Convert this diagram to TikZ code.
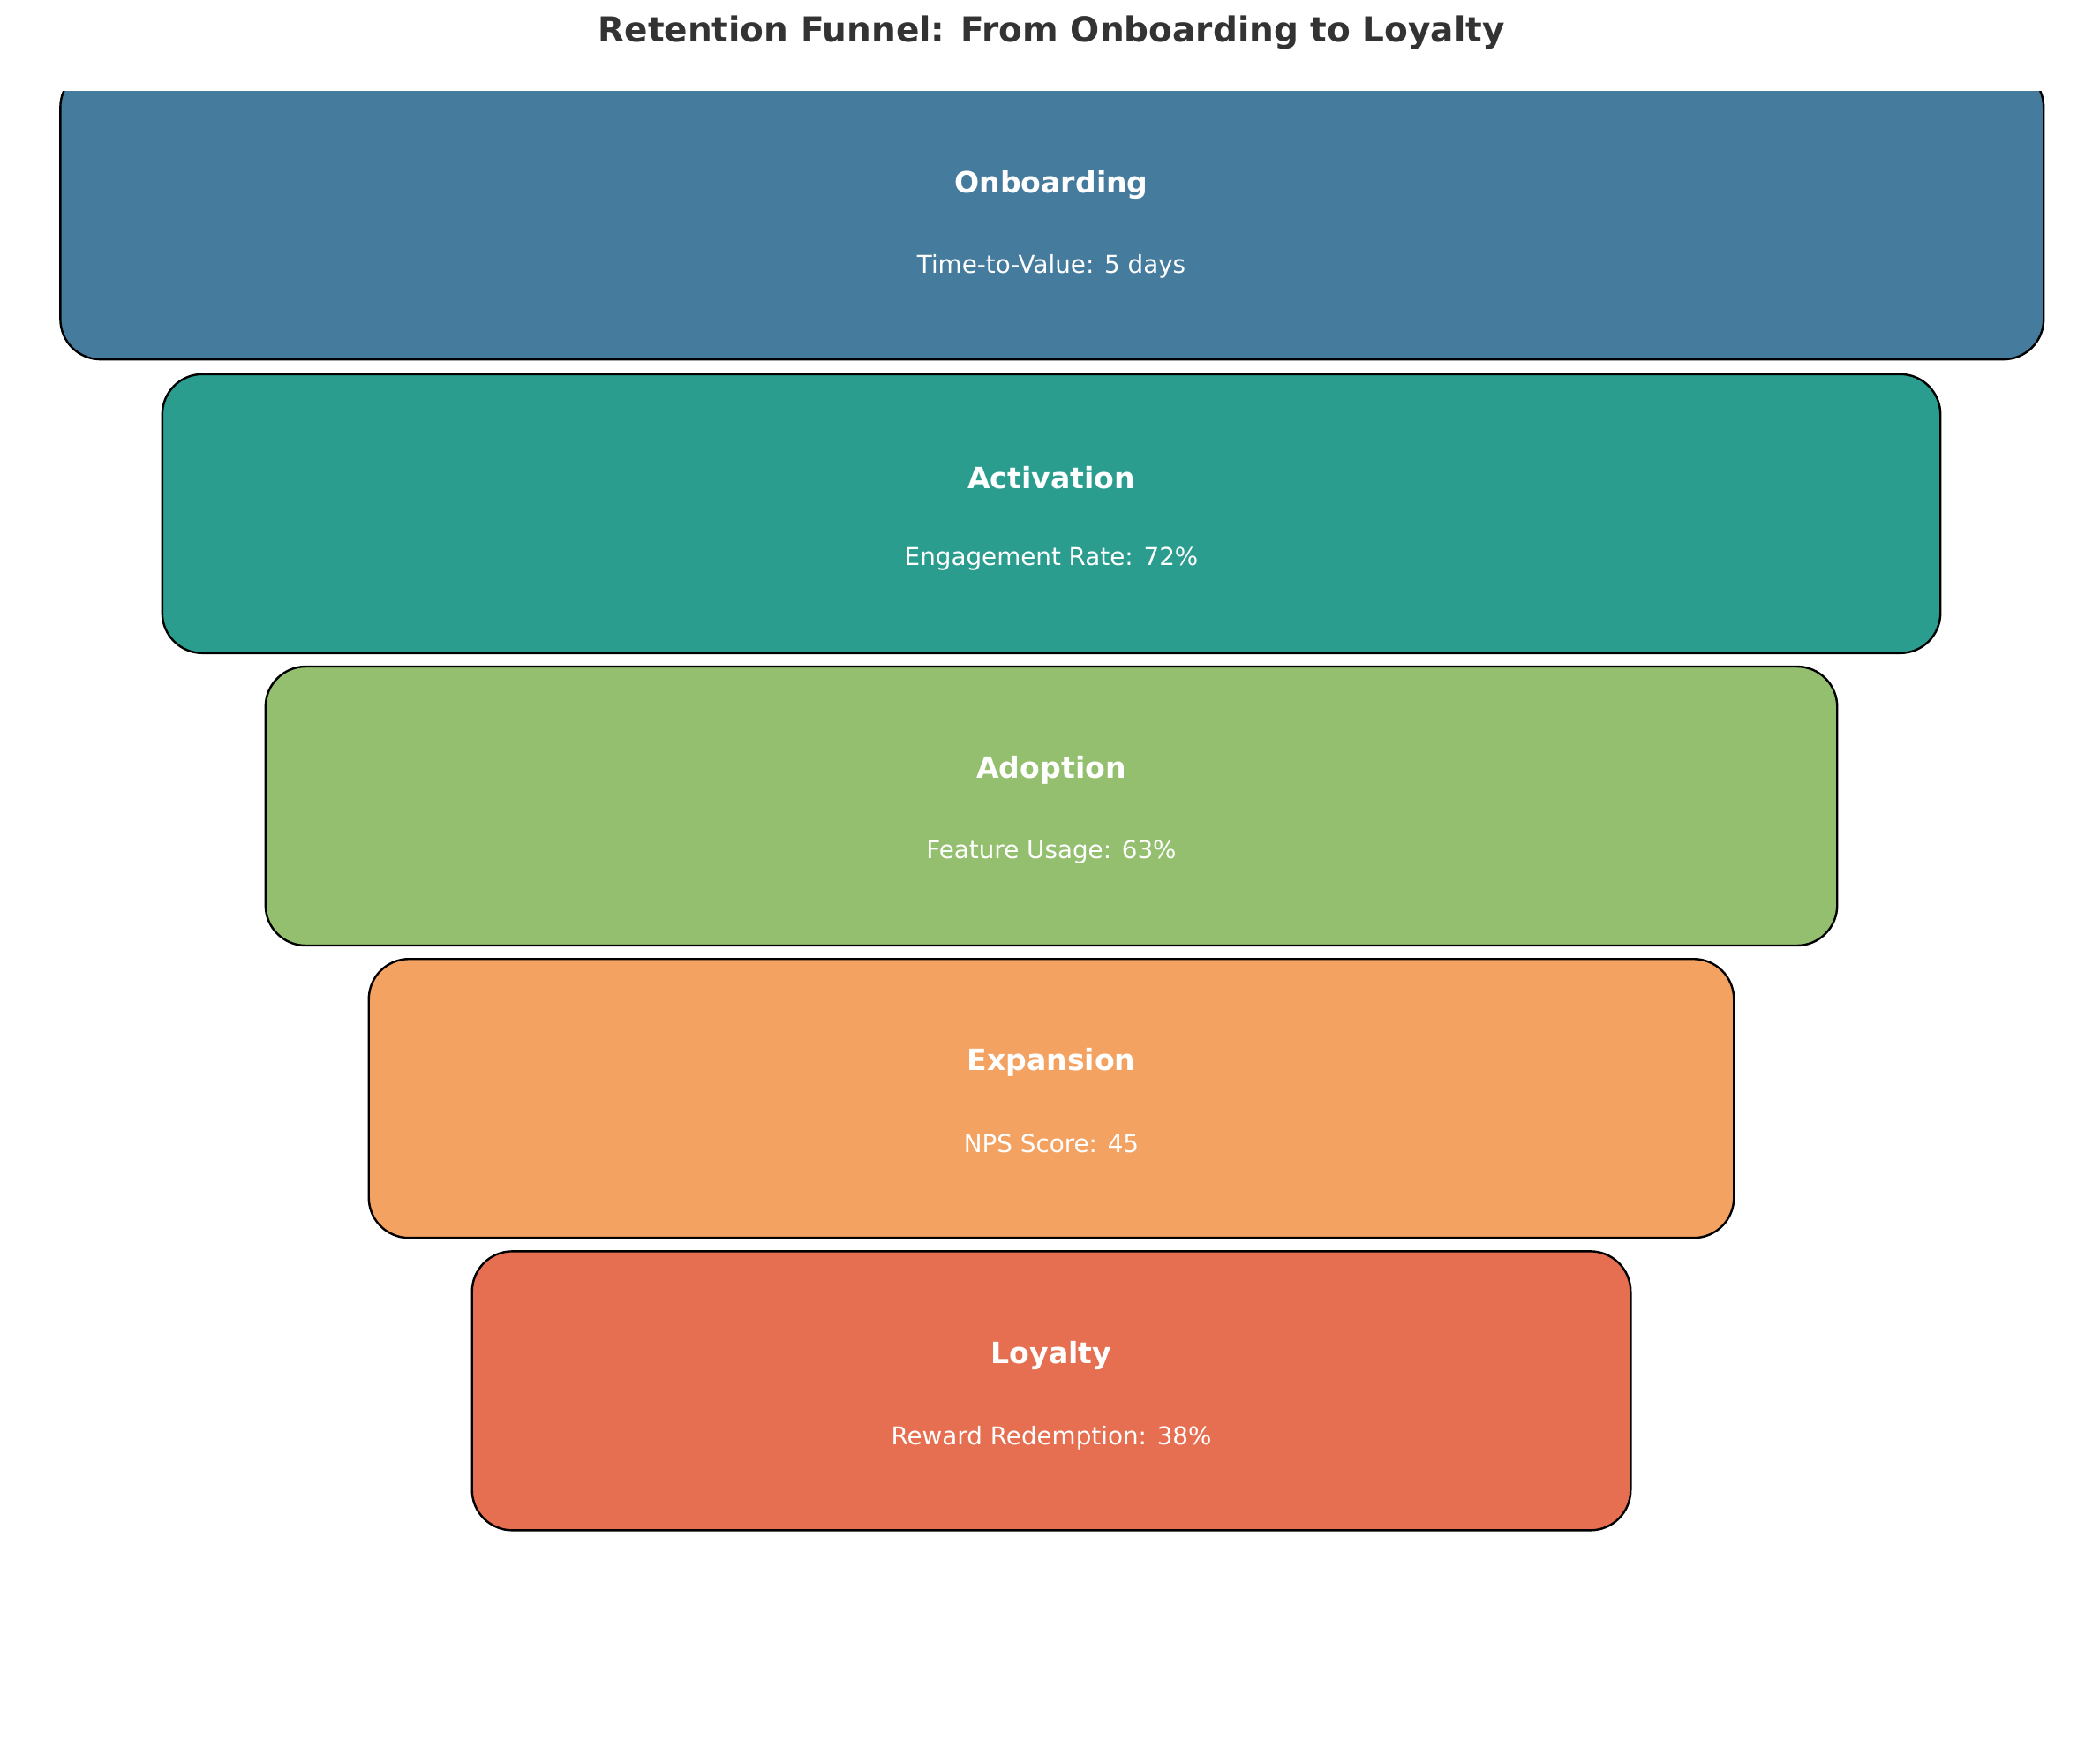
\documentclass[tikz,border=0pt]{standalone}
\usepackage{fontspec}
\setmainfont{DejaVu Sans}
\definecolor{c1}{HTML}{457B9D}
\definecolor{c2}{HTML}{2A9D8F}
\definecolor{c3}{HTML}{93BF6E}
\definecolor{c4}{HTML}{F4A261}
\definecolor{c5}{HTML}{E76F51}
\definecolor{tt}{HTML}{333333}
\tikzset{stage/.style={draw=black,line width=0.45pt,rounded corners=0.3cm},
 lab/.style={text=white,font=\fontsize{6.2}{7}\selectfont\bfseries},
 sub/.style={text=white,font=\fontsize{5.2}{6}\selectfont}}
\begin{document}
\begin{tikzpicture}[x=0.01cm,y=-0.01cm]
\useasboundingbox (0,0) rectangle (1566,1303);
\node[font=\fontsize{7.3}{8}\selectfont\bfseries,text=tt] (title) at (784,24) {Retention Funnel: From Onboarding to Loyalty};
\begin{scope}
\clip (0,68) rectangle (1566,1303);
\filldraw[stage,fill=c1] (45,50) rectangle (1524,268);
\end{scope}
\filldraw[stage,fill=c2] (121,279) rectangle (1447,487);
\filldraw[stage,fill=c3] (198,497) rectangle (1370,705);
\filldraw[stage,fill=c4] (275,715) rectangle (1293,923);
\filldraw[stage,fill=c5] (352,933) rectangle (1216,1141);
\node[lab] (l1) at (784,138) {Onboarding};
\node[sub] (s1) at (784,199) {Time-to-Value: 5 days};
\node[lab] (l2) at (784,356) {Activation};
\node[sub] (s2) at (784,417) {Engagement Rate: 72\%};
\node[lab] (l3) at (784,574) {Adoption};
\node[sub] (s3) at (784,635) {Feature Usage: 63\%};
\node[lab] (l4) at (784,792) {Expansion};
\node[sub] (s4) at (784,853) {NPS Score: 45};
\node[lab] (l5) at (784,1011) {Loyalty};
\node[sub] (s5) at (784,1072) {Reward Redemption: 38\%};
\end{tikzpicture}
\end{document}
